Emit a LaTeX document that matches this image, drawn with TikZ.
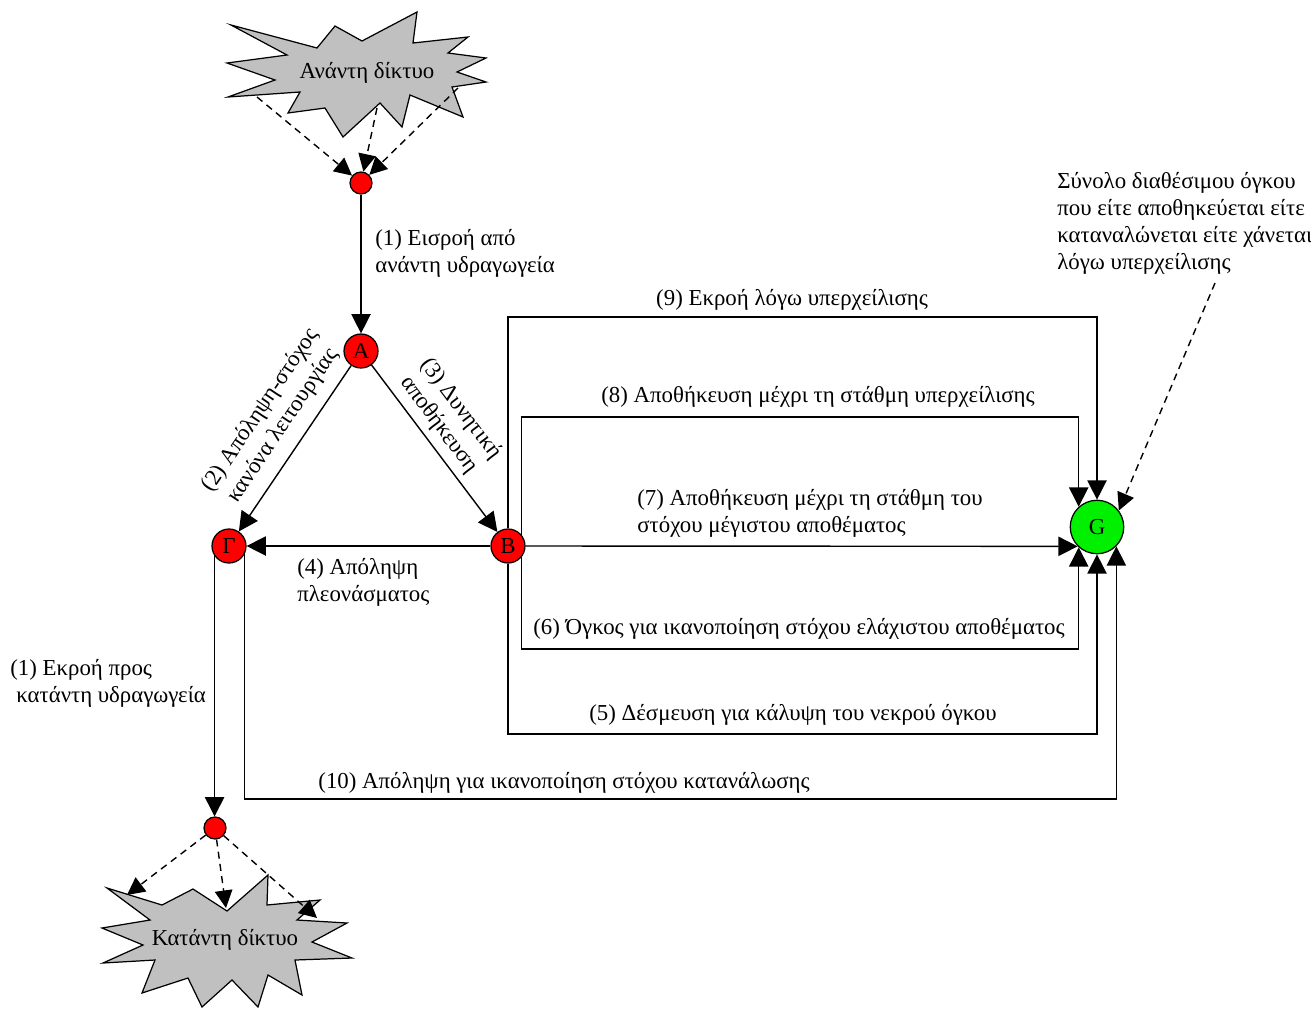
\documentclass[tikz,border=0pt]{standalone}
\usepackage{fontspec}
\setmainfont{Liberation Serif}
\usetikzlibrary{arrows.meta}

\definecolor{cloudgray}{RGB}{192,192,192}
\definecolor{nodered}{RGB}{255,0,0}
\definecolor{nodegreen}{RGB}{0,240,0}

\tikzset{
  every node/.style={font=\fontsize{13}{15.4}\selectfont, inner sep=0pt},
  smalldot/.style={circle, draw, fill=nodered, minimum size=0.44cm, line width=0.7pt},
  junction/.style={circle, draw, fill=nodered, minimum size=0.68cm, line width=0.7pt},
  goal/.style={circle, draw, fill=nodegreen, minimum size=1.07cm, line width=0.7pt},
  cloud/.style={fill=cloudgray, draw, line width=0.7pt, line join=miter},
  flow/.style={line width=0.8pt, -{Triangle[length=11pt,width=11pt]}},
  dflow/.style={line width=0.8pt, dash pattern=on 4pt off 3pt, -{Triangle[length=10pt,width=10pt]}},
}

\begin{document}
\begin{tikzpicture}[x=0.02cm, y=-0.02cm]
\useasboundingbox (0,0) rectangle (1311,1008);

% upstream network cloud
\filldraw[cloud] (231,25) -- (317,48) -- (335,26) -- (362,41) -- (417,12) -- (413,43)
  -- (468,37) -- (448,53) -- (486,58) -- (457,72) -- (486,82) -- (452,87)
  -- (463,117) -- (410,95) -- (402,127) -- (380,103) -- (343,137) -- (325,108)
  -- (288,113) -- (300,92) -- (228,97) -- (275,80) -- (227,63) -- (287,55) -- cycle;
\node (up) at (367,73) {Ανάντη δίκτυο};

% downstream network cloud
\filldraw[cloud] (107,888) -- (162,905) -- (193,889) -- (227,911) -- (268,875) -- (267,905)
  -- (320,900) -- (297,920) -- (347,923) -- (312,942) -- (352,958) -- (295,960)
  -- (302,995) -- (268,975) -- (258,1007) -- (232,980) -- (202,1007) -- (188,978)
  -- (142,993) -- (155,960) -- (103,963) -- (143,945) -- (102,928) -- (150,920) -- cycle;
\node (down) at (225,940) {Κατάντη δίκτυο};

% nodes
\node[smalldot] (top) at (361,183) {};
\node[smalldot] (low) at (215,828) {};
\node[junction] (A) at (361,351) {Α};
\node[junction] (Gm) at (229,546) {Γ};
\node[junction] (B) at (508,546) {Β};
\node[goal] (G) at (1097,527) {G};

% loose ends of the dashed arrows
\coordinate (s1) at (257,97);
\coordinate (s2) at (377,108);
\coordinate (s3) at (458,88);
\coordinate (t1) at (127,895);
\coordinate (t2) at (226,908);
\coordinate (t3) at (317,918);
\coordinate (nt) at (1215,283);

% levels of the rectangular paths
\coordinate (y9) at (0,317);
\coordinate (y8) at (0,417);
\coordinate (y6) at (0,649);
\coordinate (y5) at (0,734);
\coordinate (y10) at (0,799);

% dashed inflow and outflow arrows
\draw[dflow] (s1) -- (top);
\draw[dflow] (s2) -- (top);
\draw[dflow] (s3) -- (top);
\draw[dflow] (low) -- (t1);
\draw[dflow] (low) -- (t2);
\draw[dflow] (low) -- (t3);
\draw[dflow] (nt) -- (G.37);

% main flows
\draw[flow] (top) -- (A);
\draw[flow] (A) -- (Gm);
\draw[flow] (A) -- (B);
\draw[flow] (B) -- (Gm);
\draw[flow] (Gm.-145) -- (Gm.-145 |- low.north);
\draw[flow] (B.north) |- (G.north |- y9) -- (G.north);
\draw[flow] (B.40) |- (G.132 |- y8) -- (G.132);
\draw[flow] (B.east) -- (G.225);
\draw[flow] (B.-40) |- (G.228 |- y6) -- (G.228);
\draw[flow] (B.south) |- (G.south |- y5) -- (G.south);
\draw[flow] (Gm.-28) |- (G.-45 |- y10) -- (G.-45);

% labels
\node[anchor=west, align=left] (l1) at (375,253) {(1) Εισροή από\\ανάντη υδραγωγεία};
\node[rotate=56, align=center] (l2) at (272,418) {(2) Απόληψη-στόχος\\κανόνα λειτουργίας};
\node[rotate=-53, align=center] (l3) at (450,417) {(3) Δυνητική\\αποθήκευση};
\node[anchor=west, align=left] (l4) at (297,582) {(4) Απόληψη\\πλεονάσματος};
\node[anchor=west, align=left] (l1b) at (10,683) {(1) Εκροή προς\\\hspace{0.12cm}κατάντη υδραγωγεία};
\node (l9) at (792,300) {(9) Εκροή λόγω υπερχείλισης};
\node (l8) at (818,397) {(8) Αποθήκευση μέχρι τη στάθμη υπερχείλισης};
\node[anchor=west, align=left] (l7) at (637,513) {(7) Αποθήκευση μέχρι τη στάθμη του\\στόχου μέγιστου αποθέματος};
\node (l6) at (799,629) {(6) Όγκος για ικανοποίηση στόχου ελάχιστου αποθέματος};
\node (l5) at (793,715) {(5) Δέσμευση για κάλυψη του νεκρού όγκου};
\node (l10) at (564,783) {(10) Απόληψη για ικανοποίηση στόχου κατανάλωσης};
\node[anchor=west, align=left] (note) at (1057,223) {Σύνολο διαθέσιμου όγκου\\που είτε αποθηκεύεται είτε\\καταναλώνεται είτε χάνεται\\λόγω υπερχείλισης};
\end{tikzpicture}
\end{document}
